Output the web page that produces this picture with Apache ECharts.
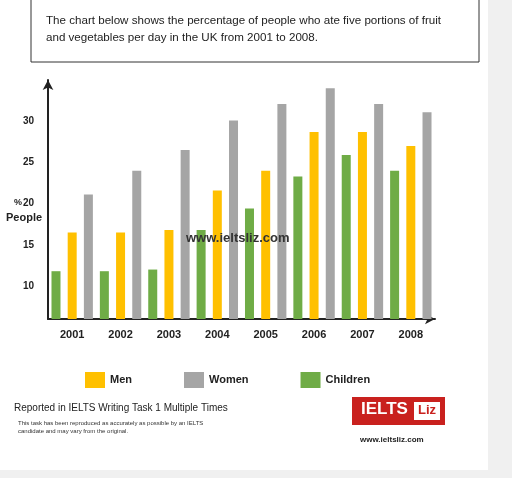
<!DOCTYPE html>
<html>
<head>
<meta charset="UTF-8">
<script src="https://cdn.jsdelivr.net/npm/echarts@6/dist/echarts.min.js"></script>
<style>
  body { margin: 0; background: #f0f0f0; }
  #chart { width: 512px; height: 478px; }
</style>
</head>
<body>
<div id="chart"></div>
<script>
var years = ['2001', '2002', '2003', '2004', '2005', '2006', '2007', '2008'];
var men = [16.5, 16.5, 16.8, 21.6, 24, 28.7, 28.7, 27];
var women = [21.1, 24, 26.5, 30.1, 32.1, 34, 32.1, 31.1];
var children = [11.8, 11.8, 12, 16.8, 19.4, 23.3, 25.9, 24];

var chart = echarts.init(document.getElementById('chart'));

var option = {
  backgroundColor: '#f0f0f0',
  animation: false,
  textStyle: { fontFamily: 'Liberation Sans' },
  graphic: [
    { type: 'rect', shape: { x: 0, y: 0, width: 488, height: 470 }, style: { fill: '#fff' }, z: -10 },
    { type: 'rect', shape: { x: 31, y: -2, width: 448, height: 64 }, style: { fill: '#fff', stroke: '#333', lineWidth: 1 } },
    { type: 'text', left: 46, top: 12, style: { text: 'The chart below shows the percentage of people who ate five portions of fruit\nand vegetables per day in the UK from 2001 to 2008.', fontSize: 11.6, lineHeight: 17, fill: '#222', fontFamily: 'Liberation Sans' } },
    { type: 'text', left: 14, top: 198, style: { text: '%', fontSize: 9, fontWeight: 'bold', fill: '#222' } },
    { type: 'text', left: 6, top: 212, style: { text: 'People', fontSize: 11, fontWeight: 'bold', fill: '#222' } },
    { type: 'text', left: 186, top: 232, style: { text: 'www.ieltsliz.com', fontSize: 13, fontWeight: 'bold', fill: '#333' }, z: 20 },
    { type: 'text', left: 14, top: 403, style: { text: 'Reported in IELTS Writing Task 1 Multiple Times', fontSize: 10, fill: '#222' } },
    { type: 'text', left: 18, top: 419, style: { text: 'This task has been reproduced as accurately as possible by an IELTS\ncandidate and may vary from the original.', fontSize: 6, lineHeight: 8, fill: '#333' } },
    { type: 'rect', shape: { x: 352, y: 397, width: 93, height: 28 }, style: { fill: '#c9211e' } },
    { type: 'text', left: 361, top: 401, style: { text: 'IELTS', fontSize: 17, fontWeight: 'bold', fill: '#fff' } },
    { type: 'rect', shape: { x: 414, y: 402, width: 26, height: 18 }, style: { fill: '#fff' } },
    { type: 'text', left: 418, top: 404, style: { text: 'Liz', fontSize: 13, fontWeight: 'bold', fill: '#c9211e' } },
    { type: 'text', left: 360, top: 436, style: { text: 'www.ieltsliz.com', fontSize: 8, fontWeight: 'bold', fill: '#222' } }
  ],
  legend: {
    top: 367, left: 80, itemGap: 52, itemWidth: 20, itemHeight: 16,
    icon: 'rect',
    textStyle: { fontSize: 11, fontWeight: 'bold', color: '#222' },
    data: ['Men', 'Women', 'Children']
  },
  grid: { left: 48, right: 77, top: 80, bottom: 159, containLabel: false },
  xAxis: {
    type: 'category', data: years,
    axisLine: { lineStyle: { color: '#222', width: 2 }, symbol: ['none', 'arrow'], symbolSize: [8, 10] },
    axisTick: { show: false },
    axisLabel: { fontSize: 11, fontWeight: 'bold', color: '#222', margin: 10 }
  },
  yAxis: {
    type: 'value', min: 6, max: 35, interval: 1,
    axisLine: { show: true, lineStyle: { color: '#222', width: 2 }, symbol: ['none', 'arrow'], symbolSize: [8, 10] },
    axisTick: { show: false },
    splitLine: { show: false },
    axisLabel: {
      fontSize: 10, fontWeight: 'bold', color: '#222', margin: 14,
      formatter: function (v) { return (v % 5 === 0 && v <= 30) ? v : ''; }
    }
  },
  series: [
    { name: 'Children', type: 'bar', data: children, barWidth: 9, barGap: '80%', itemStyle: { color: '#6fac46' } },
    { name: 'Men', type: 'bar', data: men, barWidth: 9, barGap: '80%', itemStyle: { color: '#ffc000' } },
    { name: 'Women', type: 'bar', data: women, barWidth: 9, barGap: '80%', itemStyle: { color: '#a5a5a5' } }
  ]
};
chart.setOption(option);
</script>
</body>
</html>
